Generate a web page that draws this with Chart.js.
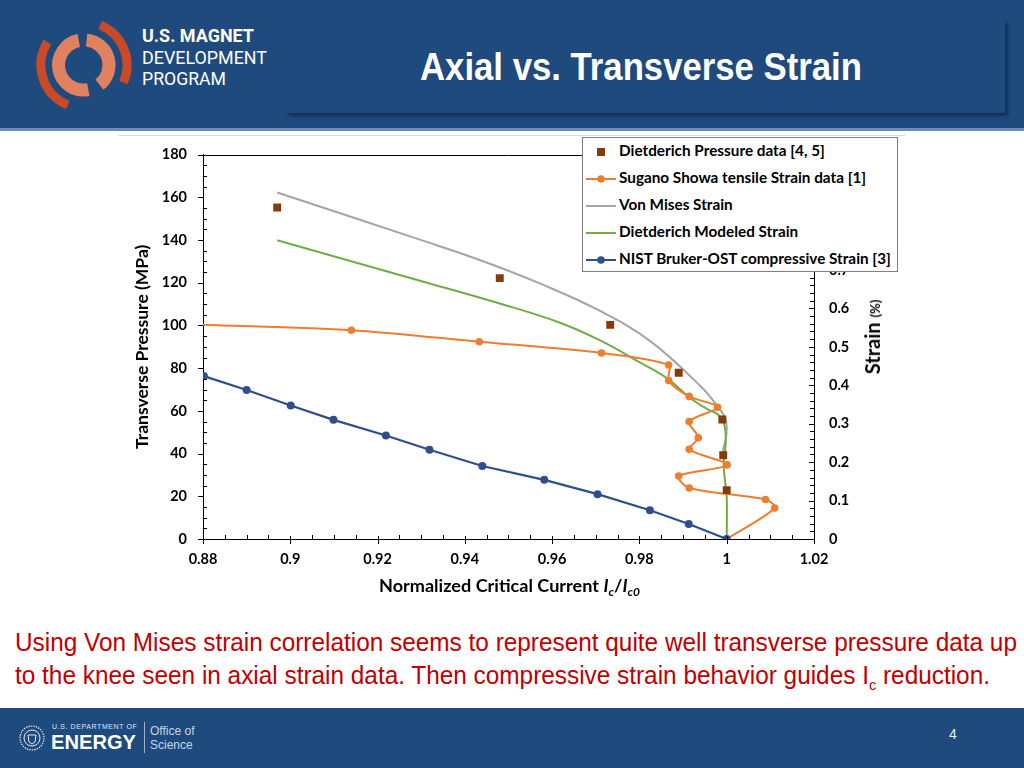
<!DOCTYPE html>
<html>
<head>
<meta charset="utf-8">
<script src="https://cdn.jsdelivr.net/npm/chart.js@4.4.1/dist/chart.umd.min.js"></script>
<style>
  html, body { margin: 0; padding: 0; background: #fff; }
  #slide { position: relative; width: 1024px; height: 768px; overflow: hidden; background: #fff; }
  .abs { position: absolute; white-space: nowrap; }
  #header { position: absolute; left: 0; top: 0; width: 1024px; height: 128px; background: #1f4a7e; }
  #headerEdge { position: absolute; left: 0; top: 128px; width: 1024px; height: 3px; background: #6f8db3; }
  #titleBox { position: absolute; left: 285px; top: 20px; width: 720px; height: 93px; background: #1f4a7e;
              box-shadow: 3px 3px 3px rgba(10, 30, 60, 0.6); }
  #title { color: #fff; font-family: "Liberation Sans Narrow", "Liberation Sans", sans-serif; font-weight: bold;
           font-size: 38px; left: 420px; top: 46px; transform-origin: left top; }
  .logoTxt { color: #fff; font-family: Roboto, "Noto Sans", sans-serif; font-size: 19px; transform-origin: left top; }
  #footer { position: absolute; left: 0; top: 708px; width: 1024px; height: 60px; background: #1f4a7e; }
  .note { color: #c00000; font-family: "Liberation Sans Narrow", "Liberation Sans", sans-serif; font-size: 25px;
          transform-origin: left top; }
  .note sub { font-size: 15px; }
  #chartBox { position: absolute; left: 120px; top: 130px; width: 790px; height: 450px; }
  #xTitle { font-family: Lato, sans-serif; font-weight: bold; font-size: 16.5px; color: #000; }
  #xTitle sub { font-size: 11px; }
  #y2Title { font-family: Lato, sans-serif; font-weight: bold; font-size: 20px; color: #000;
             transform: translate(-50%, -50%) rotate(-90deg); }
  #y2Title small { font-size: 13px; }
  #legend { position: absolute; left: 582px; top: 137px; width: 314px; height: 133px; background: #fff;
            border: 1px solid #7f7f7f; font-family: Lato, sans-serif; font-weight: bold; font-size: 15.3px; color: #000; }
  .legItem { position: absolute; left: 3px; height: 20px; line-height: 20px; white-space: nowrap; }
  .legItem svg { vertical-align: middle; margin-right: 3px; }
</style>
</head>
<body>
<div id="slide">
  <div id="header"></div>
  <div id="headerEdge"></div>
  <svg class="abs" style="left:0;top:0" width="140" height="128" id="logo"></svg>
  <div class="abs logoTxt" style="left:142px;top:24px;font-weight:bold" data-fit="112">U.S. MAGNET</div>
  <div class="abs logoTxt" style="left:142px;top:46px" data-fit="125">DEVELOPMENT</div>
  <div class="abs logoTxt" style="left:142px;top:67px" data-fit="84">PROGRAM</div>
  <div id="titleBox"></div>
  <div class="abs" id="title" data-fit="442">Axial vs. Transverse Strain</div>

  <div id="chartBox"><canvas id="chart"></canvas></div>
  <div class="abs" style="left:118px;top:135px;width:787px;height:1px;background:#d9d9d9"></div>
  <div class="abs" id="xTitle" style="left:379px;top:576px" data-fit="261">Normalized Critical Current <i>I</i><sub><i>c</i></sub>/<i>I</i><sub><i>c0</i></sub></div>
  <div class="abs" id="y2Title" style="left:872px;top:337px">Strain <small>(%)</small></div>
  <div id="legend"></div>

  <div class="abs note" style="left:15px;top:628px" data-fit="1002">Using Von Mises strain correlation seems to represent quite well transverse pressure data up</div>
  <div class="abs note" style="left:15px;top:661px" data-fit="975">to the knee seen in axial strain data. Then compressive strain behavior guides I<sub>c</sub> reduction.</div>

  <div id="footer"></div>
  <svg class="abs" style="left:18px;top:724px" width="30" height="30">
    <circle cx="14" cy="14" r="12" fill="none" stroke="#dfe6ef" stroke-width="1.2" stroke-dasharray="1.5 1"/>
    <circle cx="14" cy="14" r="8" fill="none" stroke="#dfe6ef" stroke-width="1"/>
    <path d="M10 11 L18 11 L17 18 L14 20 L11 18 Z" fill="none" stroke="#dfe6ef" stroke-width="1"/>
  </svg>
  <div class="abs" style="left:52px;top:723px;color:#dfe6ef;font-family:'Liberation Sans',sans-serif;font-size:7px;letter-spacing:0.6px">U.S. DEPARTMENT OF</div>
  <div class="abs" style="left:51px;top:731px;color:#fff;font-family:'Liberation Sans',sans-serif;font-weight:bold;font-size:20px;transform-origin:left top" data-fit="85">ENERGY</div>
  <div class="abs" style="left:144px;top:722px;width:1px;height:31px;background:#9fb2c9"></div>
  <div class="abs" style="left:150px;top:724px;color:#c9d4e2;font-family:'Liberation Sans',sans-serif;font-size:12px;line-height:14px">Office of<br>Science</div>
  <div class="abs" style="left:949px;top:726px;color:#e8edf3;font-family:'Liberation Sans',sans-serif;font-size:14px">4</div>
</div>

<script>
// Dietderich Pressure data [4, 5]
const pressureX = [0.897, 0.948, 0.9733, 0.989, 0.999, 0.9992, 1.0];
const pressureY = [155.3, 122.2, 100.3, 77.9, 56.0, 39.2, 22.9];

// Sugano Showa tensile Strain data [1]
const suganoX = [0.88, 0.914, 0.9433, 0.9713, 0.9867, 0.9867, 0.9914, 0.9979, 0.9914, 0.9935, 0.9914, 1.0001, 0.989, 0.9914, 1.0089, 1.011, 1.0];
const suganoY = [100.4, 97.8, 92.4, 87.1, 81.5, 74.2, 66.8, 61.7, 55.0, 47.4, 42.0, 34.7, 29.5, 23.9, 18.5, 14.5, 0];

// Von Mises Strain
const vonMisesX = [0.897, 0.9297, 0.9442, 0.958, 0.971, 0.9824, 0.9939, 0.9978, 0.9996, 1.0, 0.9998, 0.9992, 0.9991];
const vonMisesY = [162.3, 140.2, 130.1, 119.0, 106.8, 92.8, 71.8, 62.5, 56.9, 52.0, 47.0, 42.0, 39.0];

// Dietderich Modeled Strain
const modeledX = [0.897, 0.9297, 0.948, 0.9618, 0.971, 0.9801, 0.9866, 0.9914, 0.9954, 0.9979, 0.9993, 0.9998, 0.9993, 0.9996, 1.0, 1.0];
const modeledY = [139.9, 121.0, 110.3, 101.3, 93.0, 82.7, 74.9, 66.4, 61.0, 58.5, 54.5, 46.2, 35.3, 27.5, 20.0, 0];

// NIST Bruker-OST compressive Strain [3]
const nistX = [0.8802, 0.89, 0.9001, 0.9099, 0.9219, 0.9319, 0.944, 0.9582, 0.9704, 0.9824, 0.9913, 1.0];
const nistY = [76.3, 69.8, 62.5, 55.8, 48.5, 41.8, 34.2, 27.7, 21.0, 13.5, 7.0, 0];

const seriesLabels = [
	'Dietderich Pressure data [4, 5]',
	'Sugano Showa tensile Strain data [1]',
	'Von Mises Strain',
	'Dietderich Modeled Strain',
	'NIST Bruker-OST compressive Strain [3]'
];

let pts = (xs, ys) => xs.map((x, i) => ({ x: x, y: ys[i] }));

// logo arcs
let arcPath = (cx, cy, r, a0, a1) => {
	let rad = a => a * Math.PI / 180;
	let x0 = cx + r * Math.cos(rad(a0)), y0 = cy + r * Math.sin(rad(a0));
	let x1 = cx + r * Math.cos(rad(a1)), y1 = cy + r * Math.sin(rad(a1));
	let large = (a1 - a0) > 180 ? 1 : 0;
	return `M${x0.toFixed(1)} ${y0.toFixed(1)} A${r} ${r} 0 ${large} 1 ${x1.toFixed(1)} ${y1.toFixed(1)}`;
};
let logo = document.getElementById('logo');
logo.innerHTML =
	`<path d="${arcPath(84, 65, 25, 80, 258)}" stroke="#e0825f" stroke-width="13" fill="none"/>` +
	`<path d="${arcPath(84, 65, 25, 276, 412)}" stroke="#e0825f" stroke-width="13" fill="none"/>` +
	`<path d="${arcPath(84, 65, 43, 112, 212)}" stroke="#c94a27" stroke-width="9" fill="none"/>` +
	`<path d="${arcPath(84, 65, 43, 292, 384)}" stroke="#c94a27" stroke-width="9" fill="none"/>`;

// minor ticks and top frame line
const tickPlugin = {
	id: 'ticks',
	afterDraw: (chart) => {
		const ctx = chart.ctx;
		const a = chart.chartArea;
		const sx = chart.scales.x, sy = chart.scales.y, sy2 = chart.scales.y2;
		let line = (x0, y0, x1, y1) => { ctx.beginPath(); ctx.moveTo(x0, y0); ctx.lineTo(x1, y1); ctx.stroke(); };
		ctx.save();
		ctx.strokeStyle = '#000';
		ctx.lineWidth = 1;
		line(a.left, Math.round(a.top) + 0.5, a.right, Math.round(a.top) + 0.5);
		for (let i = 0; i <= 36; i++) {
			let py = Math.round(sy.getPixelForValue(i * 5)) + 0.5;
			if (i % 4 === 0) line(a.left - 5, py, a.left, py);
			else line(a.left, py, a.left + 4, py);
		}
		for (let i = 0; i <= 28; i++) {
			let px = Math.round(sx.getPixelForValue(0.88 + i * 0.005)) + 0.5;
			if (i % 4 === 0) line(px, a.bottom - 3, px, a.bottom + 5);
			else line(px, a.bottom - 4, px, a.bottom);
		}
		for (let i = 0; i <= 50; i++) {
			let py = Math.round(sy2.getPixelForValue(i * 0.02)) + 0.5;
			if (i % 5 === 0) line(a.right - 5, py, a.right + 1, py);
			else line(a.right - 4, py, a.right, py);
		}
		ctx.restore();
	}
};

let tickFont = { family: 'Lato', weight: 'bold', size: 14.5 };

let data = {
	datasets: [{
		label: seriesLabels[0],
		data: pts(pressureX, pressureY),
		showLine: false,
		pointStyle: 'rect',
		pointRadius: 5.6,
		backgroundColor: '#843c0c',
		borderColor: '#843c0c',
		borderWidth: 0,
		order: 0
	}, {
		label: seriesLabels[1],
		data: pts(suganoX, suganoY),
		showLine: true,
		tension: 0.3,
		borderColor: '#ed7d31',
		backgroundColor: '#ed7d31',
		borderWidth: 2,
		pointRadius: (c) => c.dataIndex === 0 ? 0 : 3.8,
		pointBorderWidth: 0,
		order: 2
	}, {
		label: seriesLabels[2],
		data: pts(vonMisesX, vonMisesY),
		showLine: true,
		tension: 0.4,
		borderColor: '#a5a5a5',
		backgroundColor: '#a5a5a5',
		borderWidth: 2,
		pointRadius: 0,
		order: 4
	}, {
		label: seriesLabels[3],
		data: pts(modeledX, modeledY),
		showLine: true,
		tension: 0.4,
		borderColor: '#70ad47',
		backgroundColor: '#70ad47',
		borderWidth: 2,
		pointRadius: 0,
		order: 3
	}, {
		label: seriesLabels[4],
		data: pts(nistX, nistY),
		showLine: true,
		tension: 0,
		borderColor: '#2f4f8c',
		backgroundColor: '#2f4f8c',
		borderWidth: 2.2,
		pointRadius: 4,
		pointBorderWidth: 0,
		order: 1
	}]
};

let config = {
	type: 'scatter',
	data: data,
	plugins: [tickPlugin],
	options: {
		responsive: true,
		maintainAspectRatio: false,
		animation: false,
		layout: { padding: { top: 2, left: 0, right: 0, bottom: 0 } },
		plugins: { legend: { display: false }, tooltip: { enabled: false } },
		scales: {
			x: {
				type: 'linear', min: 0.88, max: 1.02,
				grid: { display: false, drawTicks: false },
				border: { display: true, color: '#000', width: 1 },
				ticks: { stepSize: 0.02, padding: 12, color: '#000', font: tickFont,
					callback: (v) => String(Number(v.toFixed(2))) },
				afterFit: (s) => { s.height = 41; }
			},
			y: {
				type: 'linear', position: 'left', min: 0, max: 180,
				grid: { display: false, drawTicks: false },
				border: { display: true, color: '#000', width: 1 },
				ticks: { stepSize: 20, padding: 16, color: '#000', font: tickFont },
				title: { display: true, text: 'Transverse Pressure (MPa)', color: '#000',
					font: { family: 'Lato', weight: 'bold', size: 17.5 }, padding: { top: 12, bottom: 0 } },
				afterFit: (s) => { s.width = 83; }
			},
			y2: {
				type: 'linear', position: 'right', min: 0, max: 1,
				grid: { display: false, drawTicks: false },
				border: { display: true, color: '#000', width: 1 },
				ticks: { stepSize: 0.1, padding: 15, color: '#000', font: tickFont,
					callback: (v) => v === 0 ? '0' : (v >= 1 ? '1' : v.toFixed(1)) },
				afterFit: (s) => { s.width = 96; }
			}
		}
	}
};

let myChart = new Chart(document.getElementById('chart'), config);

// legend from the datasets, in series order
let legend = document.getElementById('legend');
data.datasets.forEach((ds, i) => {
	let item = document.createElement('div');
	item.className = 'legItem';
	item.style.top = (2 + i * 27) + 'px';
	let sw;
	if (!ds.showLine) {
		sw = `<svg width="30" height="14"><rect x="11" y="3" width="8" height="8" fill="${ds.backgroundColor}"/></svg>`;
	} else {
		let hasMarker = typeof ds.pointRadius === 'function' || ds.pointRadius > 0;
		sw = `<svg width="30" height="14"><line x1="0" y1="7" x2="30" y2="7" stroke="${ds.borderColor}" stroke-width="2"/>` +
			(hasMarker ? `<circle cx="15" cy="7" r="3.8" fill="${ds.backgroundColor}"/>` : '') + `</svg>`;
	}
	item.innerHTML = sw + ds.label;
	legend.appendChild(item);
});

// squeeze texts to the widths they take on the slide
let fitTexts = () => {
	document.querySelectorAll('[data-fit]').forEach(el => {
		el.style.transform = 'none';
		let w = el.getBoundingClientRect().width;
		let target = parseFloat(el.dataset.fit);
		if (w > 0) el.style.transform = `scaleX(${(target / w).toFixed(4)})`;
		el.style.transformOrigin = 'left top';
	});
};
fitTexts();
document.fonts && document.fonts.ready.then(fitTexts);
</script>
</body>
</html>
